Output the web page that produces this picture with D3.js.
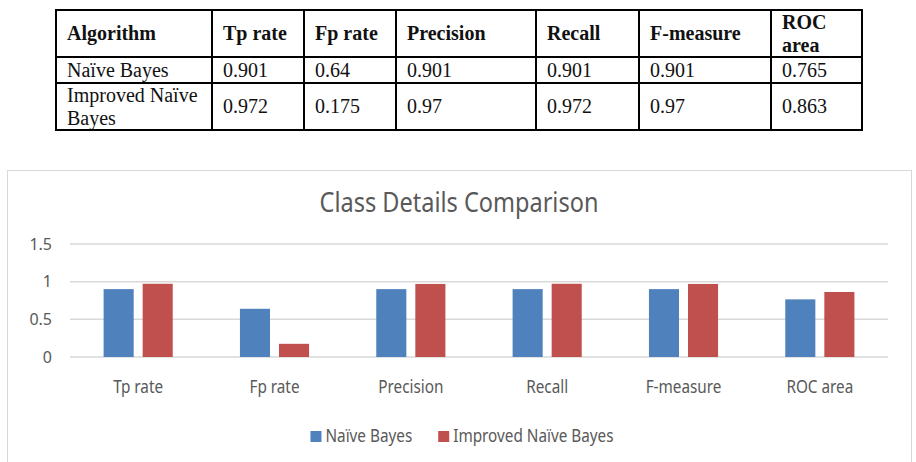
<!DOCTYPE html>
<html>
<head>
<meta charset="utf-8">
<script src="https://cdn.jsdelivr.net/npm/d3@7"></script>
<style>
  body { margin: 0; background: #fff; }
  svg { display: block; }
</style>
</head>
<body>
<div id="chart"></div>
<script>
// data
const categories = ["Tp rate", "Fp rate", "Precision", "Recall", "F-measure", "ROC area"];
const seriesNames = ["Naïve Bayes", "Improved Naïve Bayes"];
const naiveBayes = [0.901, 0.64, 0.901, 0.901, 0.901, 0.765];
const improvedNaiveBayes = [0.972, 0.175, 0.97, 0.972, 0.97, 0.863];
const yTicks = [0, 0.5, 1, 1.5];
const chartTitle = "Class Details Comparison";
const firstHeader = "Algorithm";

const colors = ["#4f81bd", "#c0504d"];
const textGray = "#595959";
const gridGray = "#d9d9d9";
const sansFont = "'Noto Sans', 'Open Sans', sans-serif";
const serifFont = "'Liberation Serif', 'DejaVu Serif', serif";

const W = 916, H = 462;
const svg = d3.select("#chart").append("svg")
    .attr("width", W)
    .attr("height", H);

// ---------- table ----------
const colEdges = [56, 212, 304, 396, 536, 639, 771, 862];
const rowEdges = [10, 57, 83, 130];
const cellPad = 11;
const lineH = 23;

const headers = [firstHeader].concat(categories);
const rows = [
    [seriesNames[0]].concat(naiveBayes.map(String)),
    [seriesNames[1]].concat(improvedNaiveBayes.map(String))
];

const table = svg.append("g");

function cellText(txt, col, row, bold) {
    const x0 = colEdges[col] + cellPad;
    const maxW = colEdges[col + 1] - colEdges[col] - 2 * cellPad;
    const t = table.append("text")
        .attr("font-family", serifFont)
        .attr("font-size", 20)
        .attr("font-weight", bold ? "bold" : "normal")
        .attr("fill", "#111");
    // simple word wrap
    const words = txt.split(" ");
    let lines = [], cur = [];
    const probe = table.append("text")
        .attr("font-family", serifFont)
        .attr("font-size", 20)
        .attr("font-weight", bold ? "bold" : "normal");
    words.forEach(w => {
        const test = cur.concat([w]).join(" ");
        probe.text(test);
        if (probe.node().getComputedTextLength() > maxW && cur.length) {
            lines.push(cur.join(" "));
            cur = [w];
        } else {
            cur.push(w);
        }
    });
    lines.push(cur.join(" "));
    probe.remove();
    const mid = (rowEdges[row] + rowEdges[row + 1]) / 2;
    const first = mid - (lines.length - 1) * lineH / 2 + 6.5;
    lines.forEach((l, i) => {
        t.append("tspan").attr("x", x0).attr("y", first + i * lineH).text(l);
    });
}

headers.forEach((h, i) => cellText(h, i, 0, true));
rows.forEach((r, ri) => r.forEach((v, ci) => cellText(v, ci, ri + 1, false)));

table.selectAll("line.v")
    .data(colEdges)
    .join("line")
    .attr("x1", d => d).attr("x2", d => d)
    .attr("y1", rowEdges[0]).attr("y2", rowEdges[rowEdges.length - 1])
    .attr("stroke", "#000").attr("stroke-width", 2);

table.selectAll("line.h")
    .data(rowEdges)
    .join("line")
    .attr("x1", colEdges[0] - 1).attr("x2", colEdges[colEdges.length - 1] + 1)
    .attr("y1", d => d).attr("y2", d => d)
    .attr("stroke", "#000").attr("stroke-width", 2);

// ---------- chart ----------
const box = {left: 7, top: 170, right: 911, bottom: 470};
svg.append("rect")
    .attr("x", box.left + 0.5).attr("y", box.top + 0.5)
    .attr("width", box.right - box.left).attr("height", box.bottom - box.top)
    .attr("fill", "none").attr("stroke", gridGray).attr("stroke-width", 1);

const plot = {left: 70, right: 888, top: 244, bottom: 357};
const cx = (box.left + box.right) / 2;

svg.append("text")
    .attr("transform", `translate(${cx},212) scale(0.84,1)`)
    .attr("text-anchor", "middle")
    .attr("font-family", sansFont)
    .attr("font-size", 28)
    .attr("fill", textGray)
    .text(chartTitle);

const y = d3.scaleLinear()
    .domain([0, 1.5])
    .range([plot.bottom, plot.top]);

const x0 = d3.scaleBand()
    .domain(categories)
    .range([plot.left, plot.right])
    .paddingInner(0.493)
    .paddingOuter(0.2465);

const x1 = d3.scaleBand()
    .domain(seriesNames)
    .range([0, x0.bandwidth()])
    .paddingInner(0.23);

// gridlines
svg.append("g")
    .selectAll("line")
    .data(yTicks)
    .join("line")
    .attr("x1", plot.left).attr("x2", plot.right)
    .attr("y1", d => y(d)).attr("y2", d => y(d))
    .attr("stroke", gridGray).attr("stroke-width", 1.5);

// y axis labels
const yAxis = svg.append("g")
    .attr("transform", `translate(${plot.left},0)`)
    .call(d3.axisLeft(y).tickValues(yTicks).tickFormat(d3.format("")).tickSize(0).tickPadding(18));
yAxis.select(".domain").remove();
yAxis.selectAll("text")
    .attr("font-family", sansFont)
    .attr("font-size", 16)
    .attr("fill", textGray);

// bars
const series = [naiveBayes, improvedNaiveBayes];
const groups = svg.append("g")
    .selectAll("g")
    .data(categories)
    .join("g")
    .attr("transform", d => `translate(${x0(d)},0)`);

groups.selectAll("rect")
    .data((c, i) => seriesNames.map((s, si) => ({s: s, v: series[si][i], c: colors[si]})))
    .join("rect")
    .attr("x", d => x1(d.s))
    .attr("y", d => y(d.v))
    .attr("width", x1.bandwidth())
    .attr("height", d => y(0) - y(d.v))
    .attr("fill", d => d.c);

// category labels
svg.append("g")
    .selectAll("text")
    .data(categories)
    .join("text")
    .attr("transform", d => `translate(${x0(d) + x0.bandwidth() / 2},393) scale(0.85,1)`)
    .attr("text-anchor", "middle")
    .attr("font-family", sansFont)
    .attr("font-size", 18)
    .attr("fill", textGray)
    .text(d => d);

// legend
const sq = 11, sqGap = 4, itemGap = 26, legScale = 0.85;
const legend = svg.append("g");
const items = legend.selectAll("g")
    .data(seriesNames)
    .join("g");
items.append("rect")
    .attr("width", sq).attr("height", sq)
    .attr("y", -sq)
    .attr("fill", (d, i) => colors[i]);
items.append("text")
    .attr("transform", `translate(${sq + sqGap},0) scale(${legScale},1)`)
    .attr("y", 0)
    .attr("font-family", sansFont)
    .attr("font-size", 18)
    .attr("fill", textGray)
    .text(d => d);

let offs = [], total = 0;
items.each(function (d, i) {
    const w = sq + sqGap + d3.select(this).select("text").node().getComputedTextLength() * legScale;
    offs.push(total);
    total += w + (i < seriesNames.length - 1 ? itemGap : 0);
});
items.attr("transform", (d, i) => `translate(${offs[i]},0)`);
legend.attr("transform", `translate(${cx - total / 2 + 3},442)`);
</script>
</body>
</html>
